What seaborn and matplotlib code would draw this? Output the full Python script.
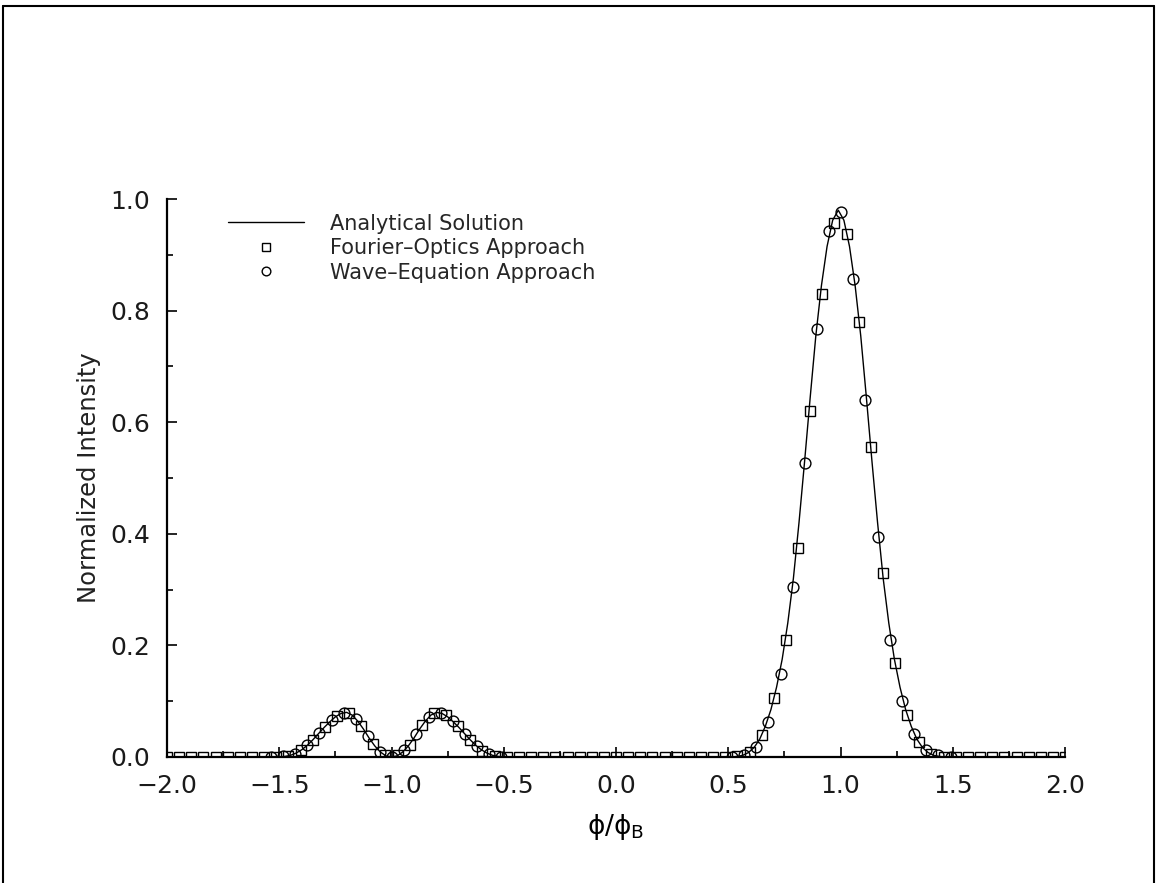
import matplotlib
matplotlib.use("Agg")
import numpy as np
import matplotlib.pyplot as plt
from matplotlib.lines import Line2D
from matplotlib.ticker import MultipleLocator, FuncFormatter
import seaborn as sns

# Analytical solution (normalized intensity vs. phi / phi_B)
line_x = [-2.0,
          -1.5, -1.475, -1.45, -1.425, -1.4, -1.375, -1.35, -1.325, -1.3, -1.275,
          -1.25, -1.225, -1.2, -1.175, -1.15, -1.125, -1.1, -1.075, -1.05, -1.025,
          -1.0, -0.975, -0.95, -0.925, -0.9, -0.875, -0.85, -0.825, -0.8, -0.775,
          -0.75, -0.725, -0.7, -0.675, -0.65, -0.625, -0.6, -0.575, -0.55, -0.525, -0.5,
          0.515, 0.54, 0.565, 0.59, 0.615, 0.64, 0.665, 0.69, 0.715, 0.74,
          0.765, 0.79, 0.815, 0.84, 0.865, 0.89, 0.915, 0.94, 0.965, 0.99,
          1.015, 1.04, 1.065, 1.09, 1.115, 1.14, 1.165, 1.19, 1.215, 1.24,
          1.265, 1.29, 1.315, 1.34, 1.365, 1.39, 1.415, 1.44, 1.465,
          2.0]
line_y = [0.0,
          0.0, 0.001, 0.003, 0.007, 0.013, 0.021, 0.031, 0.042, 0.053, 0.063,
          0.072, 0.078, 0.080, 0.075, 0.064, 0.050, 0.034, 0.020, 0.009, 0.002,
          0.0, 0.002, 0.009, 0.020, 0.034, 0.050, 0.064, 0.075, 0.080, 0.078,
          0.072, 0.063, 0.053, 0.042, 0.031, 0.021, 0.013, 0.007, 0.003, 0.001, 0.0,
          0.0, 0.001, 0.003, 0.008, 0.017, 0.032, 0.055, 0.085, 0.125, 0.175,
          0.240, 0.320, 0.420, 0.530, 0.645, 0.755, 0.845, 0.915, 0.962, 0.980,
          0.962, 0.915, 0.845, 0.755, 0.645, 0.530, 0.420, 0.320, 0.240, 0.175,
          0.125, 0.085, 0.055, 0.032, 0.017, 0.008, 0.003, 0.001, 0.0,
          0.0]

# Fourier-optics approach samples
fo_x = [-2.000, -1.946, -1.892, -1.838, -1.784, -1.730, -1.676, -1.622, -1.568,
        -1.514, -1.459, -1.405, -1.351, -1.297, -1.243, -1.189, -1.135, -1.081,
        -1.027, -0.973, -0.919, -0.865, -0.811, -0.757, -0.703, -0.649, -0.595,
        -0.541, -0.486, -0.432, -0.378, -0.324, -0.270, -0.216, -0.162, -0.108,
        -0.054, 0.000, 0.054, 0.108, 0.162, 0.216, 0.270, 0.324, 0.378, 0.432,
        0.486, 0.541, 0.595, 0.649, 0.703, 0.757, 0.811, 0.865, 0.919, 0.973,
        1.027, 1.081, 1.135, 1.189, 1.243, 1.297, 1.351, 1.405, 1.459, 1.514,
        1.568, 1.622, 1.676, 1.730, 1.784, 1.838, 1.892, 1.946, 2.000]
fo_y = [0.0, 0.0, 0.0, 0.0, 0.0, 0.0, 0.0, 0.0, 0.0,
        0.0, 0.002, 0.012, 0.031, 0.054, 0.074, 0.078, 0.056, 0.023,
        0.003, 0.003, 0.022, 0.057, 0.079, 0.075, 0.055, 0.030, 0.011,
        0.002, 0.0, 0.0, 0.0, 0.0, 0.0, 0.0, 0.0, 0.0,
        0.0, 0.0, 0.0, 0.0, 0.0, 0.0, 0.0, 0.0, 0.0, 0.0,
        0.0, 0.001, 0.009, 0.040, 0.105, 0.210, 0.375, 0.620, 0.830, 0.957,
        0.937, 0.780, 0.555, 0.330, 0.168, 0.075, 0.027, 0.006, 0.0, 0.0,
        0.0, 0.0, 0.0, 0.0, 0.0, 0.0, 0.0, 0.0, 0.0]

# Wave-equation approach samples
we_x = [-1.538, -1.484, -1.429, -1.375, -1.321, -1.267, -1.213, -1.159, -1.105, -1.051,
        -0.997, -0.943, -0.889, -0.835, -0.781, -0.727, -0.673, -0.619, -0.565, -0.511,
        0.517, 0.571, 0.625, 0.679, 0.733, 0.787, 0.841, 0.895, 0.949, 1.003,
        1.057, 1.111, 1.165, 1.219, 1.273, 1.327, 1.381, 1.436, 1.490]
we_y = [0.0, 0.001, 0.006, 0.021, 0.043, 0.066, 0.079, 0.068, 0.037, 0.009,
        0.0, 0.012, 0.041, 0.071, 0.079, 0.064, 0.041, 0.019, 0.005, 0.0,
        0.0, 0.004, 0.018, 0.063, 0.149, 0.305, 0.527, 0.767, 0.943, 0.977,
        0.857, 0.640, 0.394, 0.210, 0.100, 0.042, 0.012, 0.003, 0.0]

series_labels = ["Analytical Solution", "Fourier\u2013Optics Approach", "Wave\u2013Equation Approach"]
x_ticks = [-2.0, -1.5, -1.0, -0.5, 0.0, 0.5, 1.0, 1.5, 2.0]
y_ticks = [0.0, 0.2, 0.4, 0.6, 0.8, 1.0]

sns.set_theme(style="ticks")
plt.rcParams["font.family"] = ["DejaVu Sans"]
plt.rcParams["mathtext.fontset"] = "dejavusans"

fig = plt.figure(figsize=(11.56, 8.83), dpi=100)
ax = fig.add_axes([0.1445, 0.1427, 0.7768, 0.6319])

sns.lineplot(x=line_x, y=line_y, ax=ax, color="black", linewidth=1.0,
             sort=False, estimator=None, label=series_labels[0])
sns.lineplot(x=fo_x, y=fo_y, ax=ax, color="black", linestyle="", marker="s",
             markersize=7.8, markerfacecolor="none", markeredgecolor="black",
             markeredgewidth=1.0, sort=False, estimator=None, label=series_labels[1])
sns.lineplot(x=we_x, y=we_y, ax=ax, color="black", linestyle="", marker="o",
             markersize=7.8, markerfacecolor="none", markeredgecolor="black",
             markeredgewidth=1.0, sort=False, estimator=None, label=series_labels[2])


def one_decimal(v, _pos):
    s = f"{abs(v):.1f}"
    return ("\u2212" + s) if v < -1e-9 else s


ax.set_xlim(-2.0, 2.0)
ax.set_ylim(0.0, 1.0)
ax.set_xticks(x_ticks)
ax.set_yticks(y_ticks)
ax.xaxis.set_minor_locator(MultipleLocator(0.25))
ax.yaxis.set_minor_locator(MultipleLocator(0.1))
ax.xaxis.set_major_formatter(FuncFormatter(one_decimal))
ax.yaxis.set_major_formatter(FuncFormatter(one_decimal))
sns.despine(ax=ax)
for side in ("left", "bottom"):
    ax.spines[side].set_linewidth(1.6)
    ax.spines[side].set_color("black")
ax.tick_params(which="major", direction="in", length=7, width=1.2, colors="black",
               labelsize=18, pad=12, labelcolor="#1a1a1a")
ax.tick_params(which="minor", direction="in", length=4.5, width=1.2, colors="black")

ax.set_ylabel("Normalized Intensity", fontsize=17.5, labelpad=7, color="#222222")
ax.set_xlabel(r"$\mathregular{\phi/\phi_B}$", fontsize=19, labelpad=10, color="black")

handles, _ = ax.get_legend_handles_labels()
ax.legend(handles=handles, labels=series_labels, loc="upper left",
          bbox_to_anchor=(0.068, 0.974), frameon=False, fontsize=15,
          handlelength=3.65, handletextpad=1.25, labelspacing=0.22,
          borderpad=0, borderaxespad=0, markerscale=0.8)

# thin page frame around the figure
for xs, ys in (([0.003, 0.003], [0.0, 0.993]),
               ([0.003, 0.998], [0.993, 0.993]),
               ([0.998, 0.998], [0.993, 0.0])):
    fig.add_artist(Line2D(xs, ys, transform=fig.transFigure, color="black", linewidth=1.5))

fig.savefig("out.png", dpi=100, facecolor="white")
